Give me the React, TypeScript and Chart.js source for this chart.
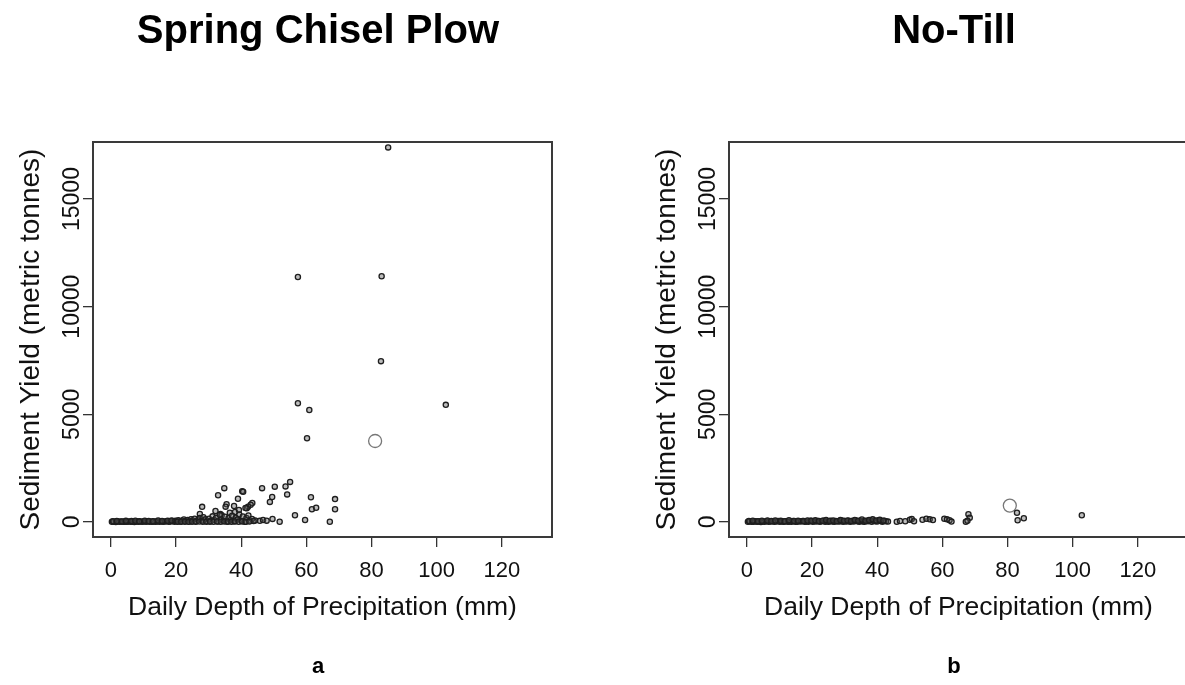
import React, { useEffect, useRef } from "react";
import { Chart, registerables } from "chart.js";

Chart.register(...registerables);

// ---------- axes ----------
const X_TICKS = [0, 20, 40, 60, 80, 100, 120];
const Y_TICKS = [0, 5000, 10000, 15000];
const X_MIN = -5.5;
const X_MAX = 135.4;
const Y_MIN = -700;
const Y_MAX = 17650;

// ---------- Spring Chisel Plow (a) ----------
const chiselX = [85.1, 57.4, 83.1, 82.9, 57.4, 60.9, 102.8, 60.2, 55.0, 53.6, 50.3, 46.4, 34.8, 32.9, 40.3, 40.6, 39.0, 49.5, 48.8, 54.1, 43.4, 42.9, 42.1, 41.7, 35.5, 35.2, 37.8, 28.0, 61.4, 68.8, 61.7, 63.0, 68.8, 56.5, 59.6, 67.2, 51.8, 49.6, 44.3, 45.7, 46.7, 47.8, 32.1, 33.6, 34.0, 36.5, 38.1, 39.3, 41.3, 27.3];
const chiselY = [17400, 11380, 11410, 7470, 5510, 5200, 5440, 3890, 1860, 1650, 1640, 1570, 1570, 1240, 1430, 1400, 1080, 1160, 930, 1280, 880, 800, 710, 640, 820, 710, 740, 700, 1150, 1060, 590, 660, 590, 310, 90, 10, 10, 140, 70, 50, 90, 60, 510, 370, 310, 430, 460, 560, 650, 370];
const chiselBandX = [
  0.3, 0.9, 1.5, 2.0, 2.6, 3.1, 3.8, 4.3, 4.9, 5.4, 6.0, 6.7, 7.2, 7.9, 8.4, 9.0, 9.6, 10.1, 10.8, 11.3, 11.9, 12.6, 13.1, 13.7, 14.2, 14.9, 15.4, 16.0, 16.6, 17.1, 17.8, 18.3, 18.9, 19.5,
  0.6, 1.8, 3.4, 4.6, 6.3, 7.5, 8.7, 10.4, 11.6, 12.9, 14.5, 15.7, 17.4, 18.6, 19.8,
  20.2, 20.7, 21.3, 21.8, 22.4, 22.9, 23.5, 24.0, 24.6, 25.1, 25.7, 26.2, 26.8, 27.3, 27.9, 28.4, 29.0, 29.5,
  20.5, 21.6, 22.7, 23.8, 24.9, 26.0, 27.1, 28.2, 29.3,
  30.1, 30.6, 31.2, 31.7, 32.3, 32.8, 33.4, 33.9, 34.5, 35.0, 35.6, 36.1, 36.7, 37.2, 37.8, 38.3, 38.9, 39.4, 40.0, 40.5, 41.1, 41.6, 42.2, 42.7, 43.3, 43.8,
  30.4, 31.5, 32.6, 33.7, 34.8, 35.9, 37.0, 38.1, 39.2, 40.3, 41.4, 42.5,
];
const chiselBandY = [
  4, 10, 2, 15, 6, 20, 3, 12, 8, 25, 5, 14, 2, 18, 9, 22, 4, 16, 7, 28, 11, 3, 19, 6, 24, 13, 30, 8, 17, 35, 5, 21, 40, 12,
  30, 45, 25, 50, 38, 55, 28, 60, 42, 35, 65, 48, 58, 70, 52,
  30, 80, 15, 60, 110, 40, 90, 20, 130, 70, 150, 35, 100, 180, 60, 220, 120, 40,
  5, 10, 8, 3, 12, 6, 15, 4, 9,
  150, 40, 260, 90, 190, 20, 320, 110, 60, 240, 15, 170, 80, 290, 30, 200, 120, 350, 50, 250, 10, 180, 300, 70, 140, 40,
  10, 5, 20, 8, 15, 12, 5, 25, 10, 20, 6, 15,
];
const chiselOpenX = [81.1];
const chiselOpenY = [3760];

// ---------- No-Till (b) ----------
const noTillX = [82.9, 83.1, 85.0, 102.8, 68.0, 68.4, 67.2, 67.7, 60.6, 61.4, 62.2, 62.8, 53.9, 55.1, 56.1, 57.1, 50.0, 50.6, 51.3, 46.0, 47.0, 48.6];
const noTillY = [430, 80, 170, 310, 360, 200, 10, 50, 150, 120, 80, 15, 100, 150, 120, 90, 100, 140, 30, 10, 40, 30];
const noTillBandX = [
  0.3, 0.9, 1.5, 2.0, 2.6, 3.1, 3.8, 4.3, 4.9, 5.4, 6.0, 6.7, 7.2, 7.9, 8.4, 9.0, 9.6, 10.1, 10.8, 11.3, 11.9, 12.6, 13.1, 13.7, 14.2, 14.9, 15.4, 16.0, 16.6, 17.1, 17.8, 18.3, 18.9, 19.5,
  20.2, 20.7, 21.3, 21.8, 22.4, 22.9, 23.5, 24.0, 24.6, 25.1, 25.7, 26.2, 26.8, 27.3, 27.9, 28.4, 29.0, 29.5,
  30.1, 30.6, 31.2, 31.7, 32.3, 32.8, 33.4, 33.9, 34.5, 35.0, 35.6, 36.1, 36.7, 37.2, 37.8, 38.3, 38.9, 39.4, 40.0, 40.5, 41.1, 41.6, 42.2, 42.7, 43.3,
  0.6, 1.8, 3.4, 4.6, 6.3, 7.5, 8.7, 10.4, 11.6, 12.9, 14.5, 15.7, 17.4, 18.6, 19.8, 21.0, 22.1, 23.2, 24.3, 25.4, 26.5, 27.6, 28.7, 29.8, 30.9, 32.0, 33.1, 34.2, 35.3, 36.4, 37.5, 38.6, 39.7, 40.8, 41.9,
];
const noTillBandY = [
  5, 20, 3, 12, 30, 8, 18, 2, 25, 10, 35, 6, 15, 28, 4, 22, 40, 9, 16, 3, 32, 11, 24, 7, 45, 14, 5, 27, 19, 38, 6, 21, 12, 50,
  8, 30, 17, 42, 4, 26, 55, 13, 33, 9, 60, 20, 7, 45, 28, 15, 65, 10,
  36, 22, 50, 5, 40, 18, 70, 30, 12, 55, 25, 8, 48, 35, 80, 14, 60, 28, 20, 75, 40, 10, 55, 30, 15,
  45, 60, 35, 55, 70, 40, 65, 50, 30, 75, 45, 60, 38, 68, 52, 80, 42, 58, 90, 48, 66, 35, 85, 55, 72, 44, 95, 60, 110, 50, 88, 120, 70, 100, 60,
];
const noTillOpenX = [80.7];
const noTillOpenY = [760];

const FONT = "'Liberation Sans', Arial, Helvetica, sans-serif";

function zip(xs: number[], ys: number[]) {
  const n = Math.min(xs.length, ys.length);
  const out: { x: number; y: number }[] = [];
  for (let i = 0; i < n; i++) out.push({ x: xs[i], y: ys[i] });
  return out;
}

const framePlugin = {
  id: "frame",
  afterDatasetsDraw(chart: any) {
    const { ctx, chartArea: a } = chart;
    ctx.save();
    ctx.strokeStyle = "#3a3a3a";
    ctx.lineWidth = 2;
    ctx.strokeRect(a.left, a.top, a.right - a.left, a.bottom - a.top);
    ctx.restore();
  },
};

type PanelProps = {
  title: string;
  sub: string;
  bandX: number[];
  bandY: number[];
  ptX: number[];
  ptY: number[];
  openX: number[];
  openY: number[];
  left: number;
};

function Panel(p: PanelProps) {
  const ref = useRef<HTMLCanvasElement>(null);
  useEffect(() => {
    const pointStyle = {
      pointRadius: 2.6,
      pointBorderWidth: 1.3,
      pointBorderColor: "#1e1e1e",
      pointBackgroundColor: "rgba(90,90,90,0.4)",
      showLine: false,
    };
    const gridOpts = {
      display: true,
      drawOnChartArea: false,
      drawTicks: true,
      tickLength: 10,
      color: "#333",
      lineWidth: 1.3,
    };
    const chart = new Chart(ref.current as HTMLCanvasElement, {
      type: "scatter",
      data: {
        datasets: [
          { data: zip(p.bandX, p.bandY), ...pointStyle },
          { data: zip(p.ptX, p.ptY), ...pointStyle },
          {
            data: zip(p.openX, p.openY),
            pointRadius: 6.5,
            pointBorderWidth: 1.3,
            pointBorderColor: "#777",
            pointBackgroundColor: "rgba(255,255,255,0)",
            showLine: false,
          },
        ],
      },
      options: {
        responsive: false,
        animation: false,
        devicePixelRatio: 1,
        layout: { padding: 0 },
        plugins: {
          legend: { display: false },
          tooltip: { enabled: false },
          title: {
            display: true,
            text: p.title,
            color: "#000",
            font: { family: FONT, size: 40, weight: "bold" },
            padding: { top: 7.5, bottom: 86.5 },
          },
          subtitle: {
            display: true,
            text: p.sub,
            position: "bottom",
            color: "#000",
            font: { family: FONT, size: 22, weight: "bold" },
            padding: { top: 10, bottom: 4.8 },
          },
        },
        scales: {
          x: {
            type: "linear",
            min: X_MIN,
            max: X_MAX,
            afterBuildTicks: (s: any) => {
              s.ticks = X_TICKS.map((v) => ({ value: v }));
            },
            afterFit: (s: any) => {
              s.height = 106.8;
            },
            grid: gridOpts,
            border: { display: false },
            ticks: {
              font: { family: FONT, size: 22 },
              color: "#111",
              padding: 11,
              maxRotation: 0,
              autoSkip: false,
              callback: (v: any) => String(v),
            },
            title: {
              display: true,
              text: "Daily Depth of Precipitation (mm)",
              color: "#111",
              font: { family: FONT, size: 26.5 },
              padding: { top: 0, bottom: 19.9 },
            },
          },
          y: {
            type: "linear",
            position: "left",
            min: Y_MIN,
            max: Y_MAX,
            afterBuildTicks: (s: any) => {
              s.ticks = Y_TICKS.map((v) => ({ value: v }));
            },
            afterFit: (s: any) => {
              s.width = 93;
            },
            grid: gridOpts,
            border: { display: false },
            ticks: {
              font: { family: FONT, size: 23 },
              color: "#111",
              padding: -22,
              minRotation: 90,
              maxRotation: 90,
              crossAlign: "center",
              autoSkip: false,
              callback: (v: any) => String(v),
            },
            title: {
              display: true,
              text: "Sediment Yield (metric tonnes)",
              color: "#111",
              font: { family: FONT, size: 28 },
              padding: { top: 14.8, bottom: 0 },
            },
          },
          yr: {
            type: "linear",
            position: "right",
            display: true,
            grid: { display: false },
            ticks: { display: false },
            border: { display: false },
            afterFit: (s: any) => {
              s.width = 84;
            },
          },
        },
      } as any,
      plugins: [framePlugin],
    });
    return () => chart.destroy();
  }, []);
  return (
    <div style={{ position: "absolute", left: p.left, top: 0, width: 636, height: 685 }}>
      <canvas ref={ref} width={636} height={685} style={{ width: 636, height: 685, display: "block" }} />
    </div>
  );
}

export default function App() {
  return (
    <div
      style={{
        position: "absolute",
        left: 0,
        top: 0,
        width: 1185,
        height: 685,
        overflow: "hidden",
        background: "#fff",
      }}
    >
      <Panel
        title="Spring Chisel Plow"
        sub="a"
        bandX={chiselBandX}
        bandY={chiselBandY}
        ptX={chiselX}
        ptY={chiselY}
        openX={chiselOpenX}
        openY={chiselOpenY}
        left={0}
      />
      <Panel
        title="No-Till"
        sub="b"
        bandX={noTillBandX}
        bandY={noTillBandY}
        ptX={noTillX}
        ptY={noTillY}
        openX={noTillOpenX}
        openY={noTillOpenY}
        left={636}
      />
    </div>
  );
}
